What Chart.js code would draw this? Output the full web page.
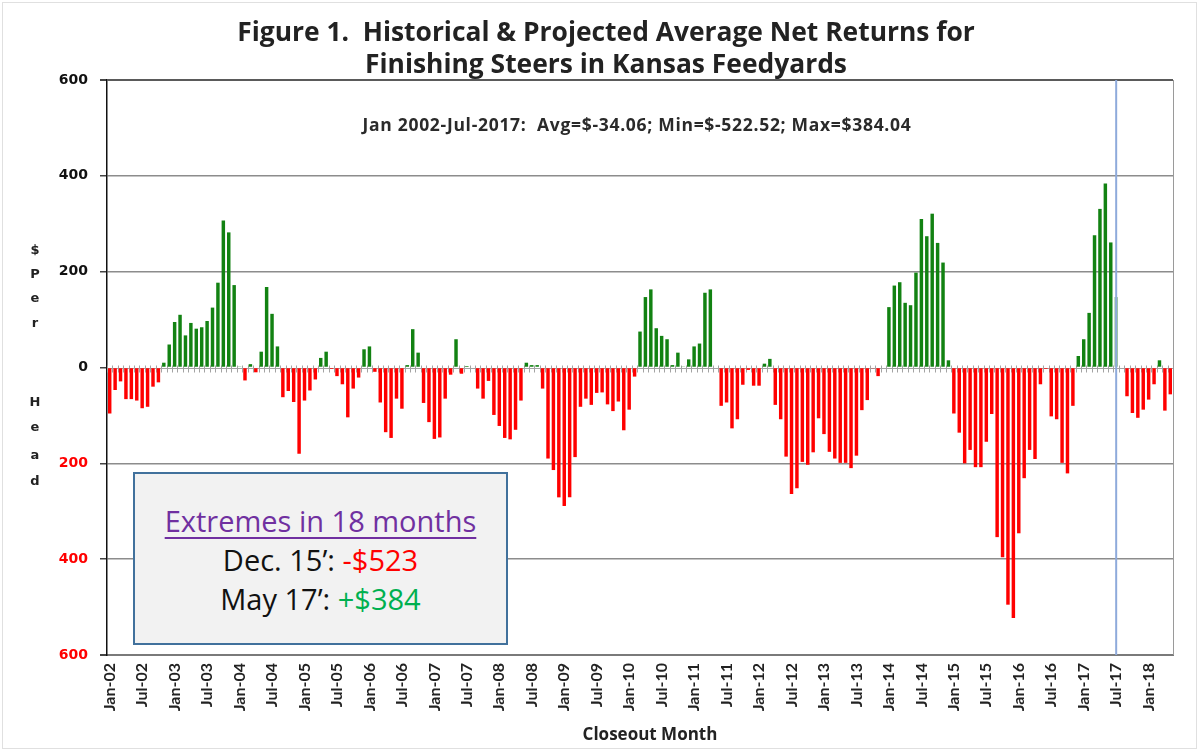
<!DOCTYPE html>
<html>
<head>
<meta charset="utf-8">
<script src="https://cdn.jsdelivr.net/npm/chart.js@4.4.0/dist/chart.umd.min.js"></script>
<style>
html,body{margin:0;padding:0;background:#fff;}
#wrap{position:relative;width:1203px;height:755px;overflow:hidden;background:#fff;}
#frame{position:absolute;left:2px;top:2px;width:1193px;height:745px;border:1px solid #e0e0e0;}
#chart{position:absolute;left:0;top:0;}
.t{position:absolute;white-space:nowrap;font-family:"Open Sans",sans-serif;font-weight:bold;color:#222;transform:translate(-50%,-50%);}
#title1{left:606px;top:31px;font-size:26.4px;}
#title2{left:606px;top:63px;font-size:26.4px;}
#stats{left:637px;top:124px;font-size:17.5px;letter-spacing:0.7px;color:#2a2a2a;}
.yl{position:absolute;left:35px;font-family:"DejaVu Sans",sans-serif;font-weight:bold;font-size:13px;color:#222;transform:translate(-50%,-50%);}
#box{position:absolute;left:133px;top:472px;width:375px;height:173px;background:#f2f2f2;border:2.5px solid #41719c;
  box-sizing:border-box;font-family:"Open Sans",sans-serif;font-size:29px;text-align:center;color:#111;}
.bl{position:absolute;left:0;width:100%;transform:translateY(-50%);line-height:40px;white-space:nowrap;}
.pur{color:#7030a0;text-decoration:underline;text-decoration-thickness:2px;text-underline-offset:5px;}
.red{color:#ff0000;}
.grn{color:#00b050;}
#xtitle{left:650px;top:733px;font-size:17px;}
</style>
</head>
<body>
<div id="wrap">
  <div id="frame"></div>
  <canvas id="chart" width="1203" height="755"></canvas>
  <div class="t" id="title1">Figure 1.&nbsp; Historical &amp; Projected Average Net Returns for</div>
  <div class="t" id="title2">Finishing Steers in Kansas Feedyards</div>
  <div class="t" id="stats">Jan 2002-Jul-2017:&nbsp; Avg=$-34.06; Min=$-522.52; Max=$384.04</div>
  <div class="t" id="xtitle">Closeout Month</div>
  <div class="yl" style="top:249px">$</div>
  <div class="yl" style="top:273px">P</div>
  <div class="yl" style="top:297px">e</div>
  <div class="yl" style="top:322px">r</div>
  <div class="yl" style="top:401px">H</div>
  <div class="yl" style="top:426px">e</div>
  <div class="yl" style="top:454px">a</div>
  <div class="yl" style="top:480px">d</div>
  <div id="box">
    <div class="bl" style="top:47px"><span class="pur">Extremes in 18 months</span></div>
    <div class="bl" style="top:86px">Dec. 15’: <span class="red">-$523</span></div>
    <div class="bl" style="top:125px">May 17’: <span class="grn">+$384</span></div>
  </div>
</div>
<script>
// ---- Data (average net return, $ per head, by closeout month) ----
const monthNames = ['Jan','Feb','Mar','Apr','May','Jun','Jul','Aug','Sep','Oct','Nov','Dec'];
const years = ['02','03','04','05','06','07','08','09','10','11','12','13','14','15','16','17','18'];

const net2002 = [-96, -47, -29, -66, -66, -69, -85, -82, -40, -31, 10, 48];
const net2003 = [95, 110, 67, 93, 81, 84, 97, 125, 177, 307, 282, 172];
const net2004 = [2, -27, 7, -10, 33, 168, 112, 44, -62, -49, -72, -180];
const net2005 = [-69, -48, -25, 20, 33, -3, -18, -35, -104, -44, -21, 38];
const net2006 = [44, -9, -73, -135, -147, -65, -86, 5, 80, 31, -74, -114];
const net2007 = [-149, -146, -65, -15, 59, -13, 3, 0, -44, -65, -28, -99];
const net2008 = [-122, -147, -150, -130, -69, 10, 5, 5, -44, -190, -214, -271];
const net2009 = [-289, -271, -187, -82, -65, -78, -53, -52, -77, -91, -71, -131];
const net2010 = [-88, -19, 75, 147, 163, 82, 66, 59, 5, 31, 2, 17];
const net2011 = [44, 50, 156, 163, 0, -80, -73, -127, -108, -36, -5, -38];
const net2012 = [-38, 8, 18, -78, -108, -186, -264, -252, -197, -203, -177, -106];
const net2013 = [-139, -176, -190, -199, -199, -210, -184, -89, -68, -2, -18, 0];
const net2014 = [126, 171, 178, 135, 130, 198, 310, 274, 321, 260, 219, 15];
const net2015 = [-96, -136, -200, -172, -208, -208, -155, -97, -354, -396, -495, -523];
const net2016 = [-346, -231, -172, -191, -35, -3, -102, -108, -199, -221, -80, 24];
const net2017 = [59, 114, 276, 331, 384, 261, 147, 0, -60, -95, -105, -88];
const net2018 = [-67, -35, 15, -90, -56];

const netReturns = [].concat(net2002, net2003, net2004, net2005, net2006, net2007, net2008,
  net2009, net2010, net2011, net2012, net2013, net2014, net2015, net2016, net2017, net2018);

const categories = [];
years.forEach(y => monthNames.forEach(m => categories.push(m + '-' + y)));
categories.length = netReturns.length;

const yTicks = [600, 400, 200, 0, -200, -400, -600];
const projectionMonth = 'Jul-17';
const projIndex = categories.indexOf(projectionMonth);

const RED = '#ff0000', GREEN = '#128212', LIGHTGREEN = 'rgba(60,150,60,0.55)';

const axisDecor = {
  id: 'axisDecor',
  beforeDatasetsDraw(chart) {
    const {ctx, chartArea: a, scales: {x, y}} = chart;
    const y0 = Math.round(y.getPixelForValue(0)) + 0.5;
    ctx.save();
    ctx.strokeStyle = '#a3a3a3';
    ctx.lineWidth = 1;
    ctx.beginPath();
    ctx.moveTo(a.left, y0); ctx.lineTo(a.right, y0);
    for (let i = 0; i <= categories.length; i++) {
      const px = Math.round(x.getPixelForValue(i - 0.5)) + 0.5;
      ctx.moveTo(px, y0 - 3); ctx.lineTo(px, y0 + 4);
    }
    ctx.stroke();
    ctx.strokeStyle = '#9a9a9a';
    ctx.beginPath();
    ctx.moveTo(a.right + 0.5, a.top); ctx.lineTo(a.right + 0.5, a.bottom);
    ctx.stroke();
    ctx.restore();
  },
  afterDatasetsDraw(chart) {
    const {ctx, chartArea: a, scales: {x}} = chart;
    const px = x.getPixelForValue(projIndex);
    ctx.save();
    ctx.strokeStyle = '#8eaadb';
    ctx.lineWidth = 2;
    ctx.beginPath();
    ctx.moveTo(px, a.top); ctx.lineTo(px, a.bottom);
    ctx.stroke();
    ctx.restore();
  }
};

new Chart(document.getElementById('chart'), {
  type: 'bar',
  data: {
    labels: categories,
    datasets: [{
      data: netReturns,
      backgroundColor: c => c.dataIndex === projIndex ? LIGHTGREEN : (c.raw < 0 ? RED : GREEN),
      borderWidth: 0,
      barPercentage: 0.64,
      categoryPercentage: 1.0
    }]
  },
  options: {
    responsive: false,
    animation: false,
    devicePixelRatio: 1,
    layout: {padding: {top: 80, right: 30, bottom: 0, left: 0}},
    plugins: {legend: {display: false}, tooltip: {enabled: false}, title: {display: false}},
    scales: {
      x: {
        type: 'category',
        grid: {display: false, drawTicks: false},
        border: {display: true, color: '#7a7a7a', width: 2},
        ticks: {
          autoSkip: false, minRotation: 90, maxRotation: 90, padding: 8,
          color: '#222', font: {family: 'Lato', weight: 'bold', size: 16},
          callback: function (v, i) { return i % 6 === 0 ? categories[i] : ''; }
        },
        title: {display: false},
        afterFit: s => { s.height = 100; }
      },
      y: {
        min: -600, max: 600,
        afterBuildTicks: s => { s.ticks = yTicks.map(v => ({value: v})); },
        grid: {
          color: c => c.tick.value === 0 ? 'rgba(0,0,0,0)' : (c.tick.value === 600 ? '#5a5a5a' : '#8c8c8c'),
          lineWidth: c => Math.abs(c.tick.value) === 600 ? 2 : 1.5,
          tickColor: '#444', tickLength: 7, drawTicks: true
        },
        border: {display: true, color: '#111', width: 1.5},
        ticks: {
          padding: 12,
          color: c => c.tick.value < 0 ? '#ff0000' : '#111',
          font: {family: 'DejaVu Sans', weight: 'bold', size: 14},
          callback: v => String(Math.abs(v))
        },
        afterFit: s => { s.width = 107; }
      }
    }
  },
  plugins: [axisDecor]
});
</script>
</body>
</html>
